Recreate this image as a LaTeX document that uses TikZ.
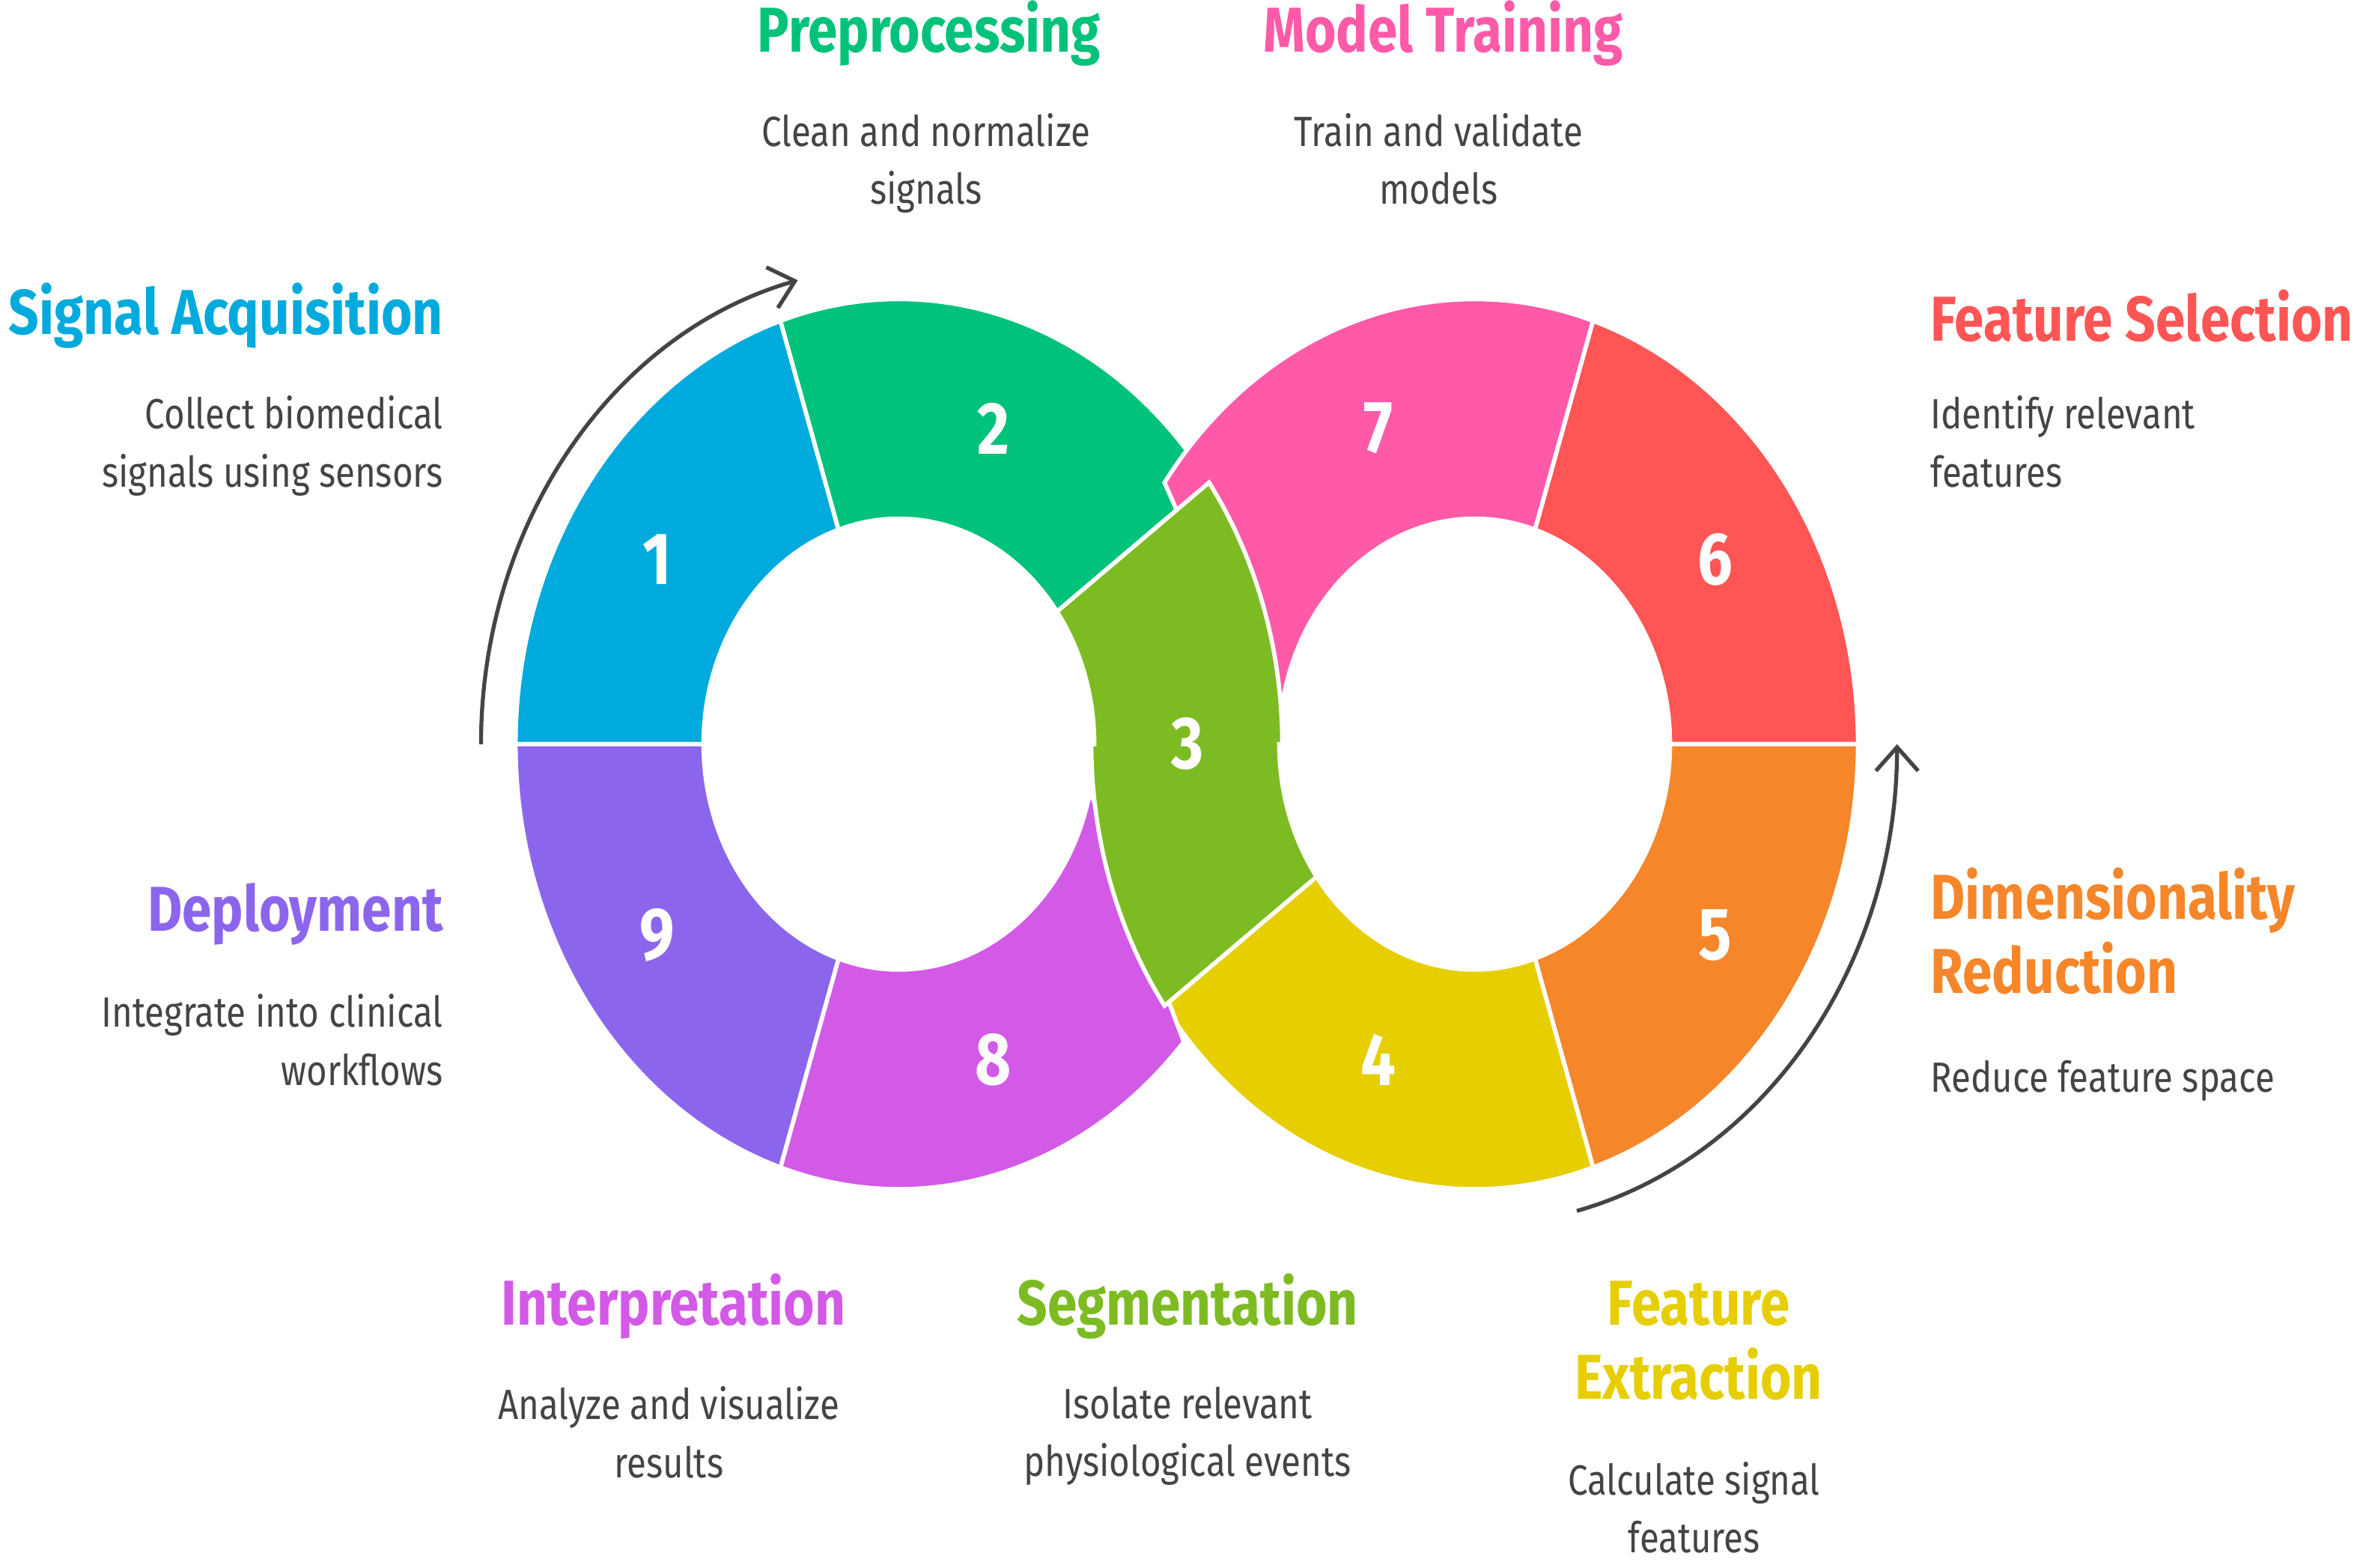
\documentclass[tikz,border=0pt]{standalone}
\usepackage{fontspec}
\setmainfont{Fira Sans}[FakeStretch=0.84]
\usetikzlibrary{arrows.meta}
\usetikzlibrary{calc}
\definecolor{cBlue}{HTML}{00AADC}
\definecolor{cGreen}{HTML}{00C27A}
\definecolor{cLime}{HTML}{7DBB22}
\definecolor{cYellow}{HTML}{E6CE00}
\definecolor{cOrange}{HTML}{F5862A}
\definecolor{cRed}{HTML}{FF5555}
\definecolor{cPink}{HTML}{FF5AA8}
\definecolor{cMagenta}{HTML}{D25AE6}
\definecolor{cPurple}{HTML}{8B66EC}
\definecolor{cText}{HTML}{444444}
\tikzset{
% Define standard arrow tip
>={Straight Barb[length=9pt,width=16pt,line width=1.5pt]},
seg/.style={draw=white, line width=1.6pt},
num/.style={text=white, font=\fontsize{28}{30}\selectfont\bfseries},
title/.style={font=\fontsize{24}{28}\selectfont\bfseries, inner sep=0},
desc/.style={text=cText, font=\fontsize{16}{22}\selectfont, inner sep=0},
loop/.style={draw=cText, line width=1.5pt, ->}
}
% outer start, outer end, inner end, inner start
\newcommand\ringseg[6]{
  \filldraw[seg, fill=#2] ($(#1)+(#3:255 and 296)$)
    arc[start angle=#3, end angle=#4, x radius=255, y radius=296]
    -- ($(#1)+(#5:130 and 150)$)
    arc[start angle=#5, end angle=#6, x radius=130, y radius=150] -- cycle;
}

\begin{document}
\begin{tikzpicture}[x=0.02cm, y=0.02cm]
  \useasboundingbox (0,0) rectangle (1568,1043);
  \coordinate (lc) at (598,548);
  \coordinate (rc) at (981,548);

  % rings
  \ringseg{lc}{cBlue}{180}{108}{108}{180}
  \ringseg{lc}{cGreen}{108}{36}{36}{108}
  \ringseg{rc}{cPink}{144}{72}{72}{180}
  \ringseg{rc}{cRed}{72}{0}{0}{72}
  \ringseg{rc}{cOrange}{0}{-72}{-72}{0}
  \ringseg{rc}{cYellow}{-72}{-144}{-144}{-72}
  \ringseg{lc}{cMagenta}{252}{318}{348}{252}
  \ringseg{lc}{cPurple}{180}{252}{252}{180}

  % crossing band
  \filldraw[seg, fill=cLime] ($(lc)+(36:130 and 150)$)
    arc[start angle=36, end angle=0, x radius=130, y radius=150]
    -- ($(rc)+(180:255 and 296)$)
    arc[start angle=180, end angle=216, x radius=255, y radius=296]
    -- ($(rc)+(216:130 and 150)$)
    arc[start angle=216, end angle=180, x radius=130, y radius=150]
    -- ($(lc)+(0:255 and 296)$)
    arc[start angle=0, end angle=36, x radius=255, y radius=296] -- cycle;

  % numbers
  \node[num] (n1) at (437,671) {1};
  \node[num] (n2) at (661,758) {2};
  \node[num] (n3) at (790,548) {3};
  \node[num] (n4) at (917,338) {4};
  \node[num] (n5) at (1141,421) {5};
  \node[num] (n6) at (1141,671) {6};
  \node[num] (n7) at (917,758) {7};
  \node[num] (n8) at (661,338) {8};
  \node[num] (n9) at (437,421) {9};

  % loop arrows
  \coordinate (la1) at ($(lc)+(180:278 and 318)$);
  \coordinate (ra1) at ($(rc)+(-76:281 and 320)$);
  \draw[loop] (la1) arc[start angle=180, end angle=104, x radius=278, y radius=318];
  \draw[loop] (ra1) arc[start angle=-76, end angle=0, x radius=281, y radius=320];

  % left labels
  \node[title, text=cBlue, anchor=east] (t1) at (295,833) {Signal Acquisition};
  \node[desc, anchor=north east, align=right] (d1) at (295,780) {Collect biomedical\\signals using sensors};
  \node[title, text=cPurple, anchor=east] (t9) at (295,435) {Deployment};
  \node[desc, anchor=north east, align=right] (d9) at (295,382) {Integrate into clinical\\workflows};

  % top labels
  \node[title, text=cGreen] (t2) at (618,1021) {Preprocessing};
  \node[desc, anchor=north, align=center] (d2) at (616,968) {Clean and normalize\\signals};
  \node[title, text=cPink] (t7) at (960,1021) {Model Training};
  \node[desc, anchor=north, align=center] (d7) at (957,968) {Train and validate\\models};

  % right labels
  \node[title, text=cRed, anchor=west] (t6) at (1284,833) {Feature Selection};
  \node[desc, anchor=north west, align=left] (d6) at (1284,780) {Identify relevant\\features};
  \node[title, text=cOrange, anchor=north west, align=left] (t5) at (1284,466) {Dimensionality\\Reduction};
  \node[desc, anchor=west] (d5) at (1284,324) {Reduce feature space};

  % bottom labels
  \node[title, text=cMagenta] (t8) at (448,174) {Interpretation};
  \node[desc, anchor=north, align=center] (d8) at (445,121) {Analyze and visualize\\results};
  \node[title, text=cLime] (t3) at (790,174) {Segmentation};
  \node[desc, anchor=north, align=center] (d3) at (790,121) {Isolate relevant\\physiological events};
  \node[title, text=cYellow, anchor=north, align=center] (t4) at (1130,191) {Feature\\Extraction};
  \node[desc, anchor=north, align=center] (d4) at (1127,71) {Calculate signal\\features};
\end{tikzpicture}
\end{document}
